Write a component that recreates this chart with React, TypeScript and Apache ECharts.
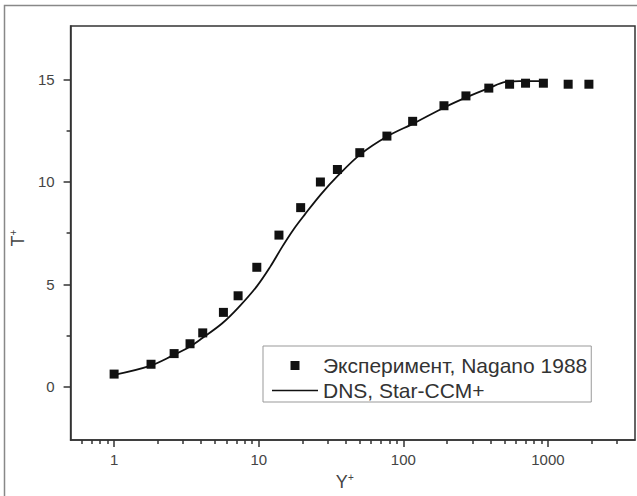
import React, { useEffect, useRef } from "react";
import * as echarts from "echarts";

// Experimental points (Nagano 1988): Y+ and T+
const expY = [1, 1.8, 2.6, 3.35, 4.1, 5.7, 7.2, 9.7, 13.8, 19.5, 26.7, 35, 50, 77, 116, 191, 271, 390, 543, 700, 930, 1380, 1920];
const expT = [0.62, 1.1, 1.62, 2.1, 2.63, 3.63, 4.44, 5.83, 7.4, 8.74, 9.99, 10.6, 11.42, 12.23, 12.95, 13.71, 14.19, 14.57, 14.76, 14.81, 14.81, 14.76, 14.76];

// DNS, Star-CCM+ curve
const dnsY = [1, 1.77, 2.55, 3.33, 4.08, 5.6, 7.2, 9.7, 12, 14.6, 17.5, 20.8, 27, 35.3, 50.7, 77.7, 118, 195, 275, 390, 510, 632, 944];
const dnsT = [0.58, 1.02, 1.53, 1.95, 2.38, 3.1, 3.85, 4.9, 5.85, 6.85, 7.7, 8.4, 9.4, 10.3, 11.35, 12.22, 12.85, 13.65, 14.13, 14.57, 14.87, 14.91, 14.91];

// Axis ticks
const xMajorTicks = [1, 10, 100, 1000];
const xMinorTicks = [0.6, 0.7, 0.8, 0.9, 2, 3, 4, 5, 6, 7, 8, 9, 20, 30, 40, 50, 60, 70, 80, 90, 200, 300, 400, 500, 600, 700, 800, 900, 2000, 3000];
const yMajorTicks = [0, 5, 10, 15];
const yMinorTicks = [2.5, 7.5, 12.5];

const seriesNames = ["Эксперимент, Nagano 1988", "DNS, Star-CCM+"];

export default function App() {
  const ref = useRef<HTMLDivElement>(null);
  useEffect(() => {
    if (!ref.current) return;
    const chart = echarts.init(ref.current, undefined, { renderer: "svg" });
    const font = "Liberation Sans";
    const axisColor = "#333";
    const labelColor = "#444";
    chart.setOption({
      animation: false,
      backgroundColor: "#fff",
      textStyle: { fontFamily: font },
      grid: {
        left: 63,
        top: 26,
        right: 2,
        bottom: 48,
        show: true,
        borderColor: axisColor,
        borderWidth: 1.5,
        backgroundColor: "transparent",
      },
      graphic: [
        {
          type: "rect",
          shape: { x: 4.5, y: 5.5, width: 700, height: 600 },
          style: { fill: "none", stroke: "#888", lineWidth: 1.5 },
          silent: true,
        },
      ],
      legend: {
        left: 263,
        top: 346,
        orient: "vertical",
        itemWidth: 46,
        itemHeight: 9,
        itemGap: 4,
        padding: [9, 4, 1, 9],
        borderColor: "#999",
        borderWidth: 1,
        backgroundColor: "#fff",
        symbolKeepAspect: true,
        textStyle: { fontSize: 21, color: "#333", fontFamily: font, lineHeight: 19 },
        data: [
          { name: seriesNames[0], icon: "path://M0,0h8v8h-8z", itemStyle: { color: "#111", opacity: 1 } },
          { name: seriesNames[1], icon: "path://M0,0h46v1.6h-46z", itemStyle: { color: "#111", opacity: 1 } },
        ],
      },
      xAxis: [
        {
          type: "log",
          logBase: 10,
          min: 0.5,
          max: 4000,
          position: "bottom",
          name: "{a|Y}{b|+}",
          nameLocation: "middle",
          nameGap: 26,
          nameTextStyle: {
            padding: [0, 16, 0, 0],
            rich: {
              a: { fontSize: 18, color: labelColor, fontFamily: font },
              b: { fontSize: 10, color: labelColor, fontFamily: font, padding: [0, 0, 10, 0] },
            },
          },
          axisLine: { show: true, onZero: false, lineStyle: { color: axisColor, width: 1.5 } },
          axisTick: { show: true, inside: false, length: 7, customValues: xMajorTicks, lineStyle: { color: axisColor, width: 1.5 } },
          axisLabel: {
            show: true,
            customValues: xMajorTicks,
            margin: 12,
            fontSize: 15,
            color: labelColor,
            fontFamily: font,
            formatter: (v: number) => String(Math.round(v)),
          },
          splitLine: { show: false },
          minorTick: { show: false },
        },
        {
          type: "log",
          logBase: 10,
          min: 0.5,
          max: 4000,
          position: "bottom",
          axisLine: { show: false, onZero: false },
          axisTick: { show: true, inside: false, length: 4, customValues: xMinorTicks, lineStyle: { color: axisColor, width: 1.5 } },
          axisLabel: { show: false },
          splitLine: { show: false },
        },
      ],
      yAxis: [
        {
          type: "value",
          min: -2.6,
          max: 17.6,
          position: "left",
          name: "{a|T}{b|+}",
          nameLocation: "middle",
          nameRotate: 90,
          nameGap: 19,
          nameTextStyle: {
            padding: [0, 10, 0, 0],
            rich: {
              a: { fontSize: 18, color: labelColor, fontFamily: font },
              b: { fontSize: 10, color: labelColor, fontFamily: font, padding: [0, 0, 10, 0] },
            },
          },
          axisLine: { show: true, onZero: false, lineStyle: { color: axisColor, width: 1.5 } },
          axisTick: { show: true, inside: false, length: 7, customValues: yMajorTicks, lineStyle: { color: axisColor, width: 1.5 } },
          axisLabel: { show: true, customValues: yMajorTicks, margin: 16, fontSize: 15, color: labelColor, fontFamily: font },
          splitLine: { show: false },
        },
        {
          type: "value",
          min: -2.6,
          max: 17.6,
          position: "left",
          axisLine: { show: false, onZero: false },
          axisTick: { show: true, inside: false, length: 4, customValues: yMinorTicks, lineStyle: { color: axisColor, width: 1.5 } },
          axisLabel: { show: false },
          splitLine: { show: false },
        },
      ],
      series: [
        {
          name: seriesNames[0],
          type: "scatter",
          xAxisIndex: 0,
          yAxisIndex: 0,
          symbol: "rect",
          symbolSize: 9,
          itemStyle: { color: "#111", opacity: 1 },
          data: expY.map((x, i) => [x, expT[i]]),
          z: 3,
        },
        {
          name: seriesNames[1],
          type: "line",
          xAxisIndex: 0,
          yAxisIndex: 0,
          smooth: 0.35,
          symbol: "none",
          lineStyle: { color: "#111", width: 1.8 },
          itemStyle: { color: "#111" },
          data: dnsY.map((x, i) => [x, dnsT[i]]),
          z: 2,
        },
      ],
    });
    return () => chart.dispose();
  }, []);
  return (
    <div
      ref={ref}
      style={{ position: "absolute", left: 0, top: 0, width: 637, height: 496 }}
    />
  );
}
